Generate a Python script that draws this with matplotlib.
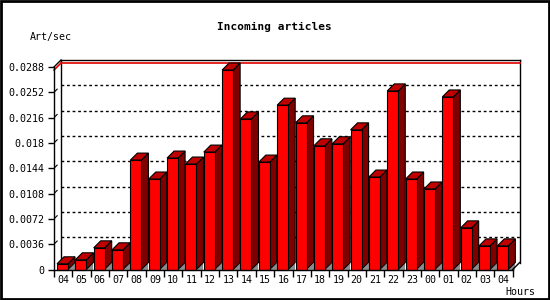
import matplotlib
matplotlib.use("Agg")
import matplotlib.pyplot as plt
from matplotlib.patches import Polygon, Rectangle

# ---------------------------------------------------------------------------
# Data
# ---------------------------------------------------------------------------
hours = ["04", "05", "06", "07", "08", "09", "10", "11", "12", "13", "14", "15",
         "16", "17", "18", "19", "20", "21", "22", "23", "00", "01", "02", "03", "04"]
rates = [0.00081, 0.00138, 0.00308, 0.00280, 0.01556, 0.01287, 0.01585, 0.01500,
         0.01670, 0.02837, 0.02142, 0.01528, 0.02337, 0.02086, 0.01759, 0.01788,
         0.01986, 0.01315, 0.02540, 0.01287, 0.01145, 0.02454, 0.00592, 0.00336,
         0.00336]
yticks = [0, 0.0036, 0.0072, 0.0108, 0.0144, 0.018, 0.0216, 0.0252, 0.0288]
ytick_labels = ["0", "0.0036", "0.0072", "0.0108", "0.0144", "0.018",
                "0.0216", "0.0252", "0.0288"]

FONT = "DejaVu Sans Mono"
W, H = 550, 300

fig = plt.figure(figsize=(W / 100, H / 100), dpi=100)
fig.patch.set_facecolor("white")

# front plane of the 3D box, in pixels
left, right, bottom, top = 54, 512.7, 269.5, 67
ax = fig.add_axes([left / W, (H - bottom) / H, (right - left) / W, (bottom - top) / H])
n = len(hours)
ymax = yticks[-1]
ax.set_xlim(0, n)
ax.set_ylim(0, ymax)
ax.set_facecolor("none")

# depth of the pseudo-3D effect, converted to data units
depth_px = 7
dx = depth_px / ((right - left) / n)
dy = depth_px * ymax / (bottom - top)

# back panel
k = dict(color="black", lw=1, clip_on=False)
ax.plot([dx, dx], [dy, ymax + dy], **k)
ax.plot([dx, n + dx], [ymax + dy, ymax + dy], **k)
ax.plot([n + dx, n + dx], [dy, ymax + dy], **k)
ax.plot([n, n + dx], [0, dy], **k)
ax.plot([0, dx], [ymax, ymax + dy], **k)

# dotted grid on the back wall + small slanted marks
for v in yticks[1:-1]:
    ax.plot([dx, n + dx], [v + dy, v + dy], color="black", lw=1,
            linestyle=(0, (2, 2)), clip_on=False)
    ax.plot([dx * 0.15, dx * 0.45], [v + dy * 0.15, v + dy * 0.45],
            color="black", lw=0.8, clip_on=False)

# red max line
vmax = max(rates)
ax.plot([dx, n + dx], [vmax + dy, vmax + dy], color="#e00000", lw=1.2, clip_on=False)
ax.plot([0, dx], [vmax, vmax + dy], color="#e00000", lw=1.2, clip_on=False)

# bars
bw = 11 / ((right - left) / n)
off = 3 / ((right - left) / n)
for i, v in enumerate(rates):
    x0 = i + off
    x1 = x0 + bw
    ax.add_patch(Polygon([(x1, 0), (x1 + dx, 0), (x1 + dx, dy)], closed=True,
                         facecolor="#8c8c8c", edgecolor="none", clip_on=False))
    ax.add_patch(Polygon([(x1, 0), (x1 + dx, dy), (x1 + dx, v + dy), (x1, v)],
                         closed=True, facecolor="#800000", edgecolor="black",
                         lw=0.8, clip_on=False, zorder=3))
    ax.add_patch(Polygon([(x0, v), (x0 + dx, v + dy), (x1 + dx, v + dy), (x1, v)],
                         closed=True, facecolor="#c00000", edgecolor="black",
                         lw=0.8, clip_on=False, zorder=3))
    ax.add_patch(Rectangle((x0, 0), bw, v, facecolor="#ff0000", edgecolor="black",
                           lw=0.8, clip_on=False, zorder=4))

# axes / ticks
for s in ("top", "right"):
    ax.spines[s].set_visible(False)
for s in ("left", "bottom"):
    ax.spines[s].set_linewidth(1)
    ax.spines[s].set_zorder(5)

ax.set_yticks(yticks)
ax.set_yticklabels(ytick_labels, fontfamily=FONT, fontsize=7.2)
ax.tick_params(axis="y", length=4, width=1, pad=3, direction="out")

ax.set_xticks(range(n + 1))
ax.set_xticklabels([])
ax.set_xticks([i + 0.5 for i in range(n)], minor=True)
ax.set_xticklabels(hours, minor=True, fontfamily=FONT, fontsize=7.2)
ax.tick_params(axis="x", which="major", length=5, width=1, direction="out")
ax.tick_params(axis="x", which="minor", length=0, pad=4)

# texts
fig.text(274 / W, 1 - 27 / H, "Incoming articles", ha="center", va="center",
         fontfamily=FONT, fontsize=8, fontweight="bold")
fig.text(30 / W, 1 - 37 / H, "Art/sec", ha="left", va="center",
         fontfamily=FONT, fontsize=7.2)
fig.text(535 / W, 1 - 292 / H, "Hours", ha="right", va="center",
         fontfamily=FONT, fontsize=7.2)

# outer frame
fig.add_artist(Rectangle((0.001, 0.002), 0.997, 0.995, transform=fig.transFigure,
                         fill=False, edgecolor="black", lw=2))

fig.savefig("out.png", dpi=100)
